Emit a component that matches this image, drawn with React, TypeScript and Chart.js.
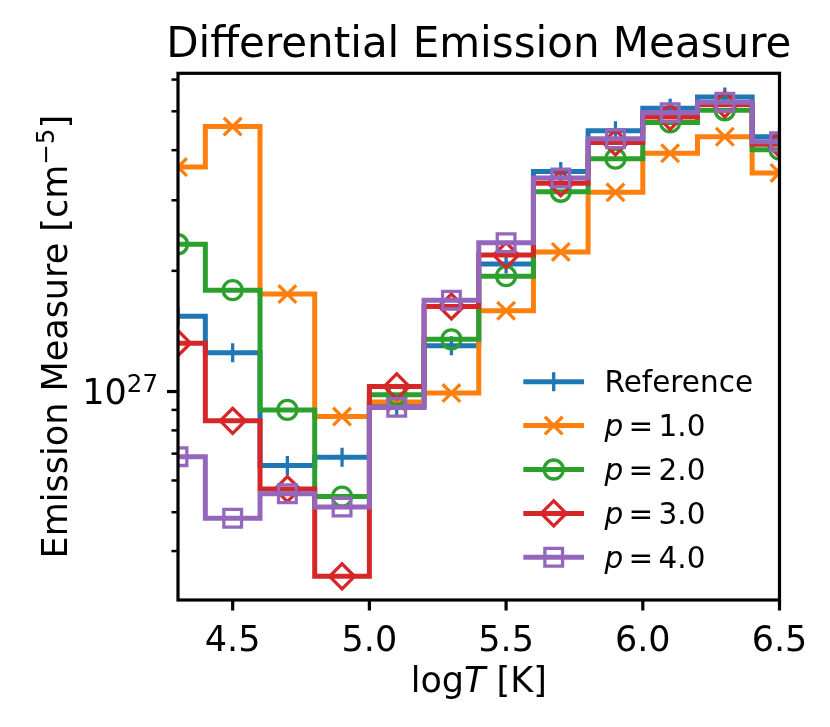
import { useEffect, useRef } from 'react';
import { Chart, registerables, Plugin, ChartConfiguration } from 'chart.js';
import { drawPoint } from 'chart.js/helpers';

Chart.register(...registerables);

// bin centres, log T [K]
const logTemperature: number[] = [4.3, 4.5, 4.7, 4.9, 5.1, 5.3, 5.5, 5.7, 5.9, 6.1, 6.3, 6.5];

// emission measure per bin [cm^-5]
const emReference: number[] = [1.54e27, 1.25e27, 6.54e26, 6.86e26, 9.2e26, 1.30e27, 2.08e27, 3.54e27, 4.47e27, 5.09e27, 5.43e27, 4.32e27];
const emP1: number[] = [3.63e27, 4.58e27, 1.75e27, 8.66e26, 9.42e26, 9.91e26, 1.59e27, 2.23e27, 3.14e27, 3.93e27, 4.32e27, 3.51e27];
const emP2: number[] = [2.33e27, 1.79e27, 9.0e26, 5.47e26, 9.81e26, 1.35e27, 1.94e27, 3.15e27, 3.81e27, 4.69e27, 5.03e27, 4.01e27];
const emP3: number[] = [1.32e27, 8.45e26, 5.71e26, 3.46e26, 1.03e27, 1.63e27, 2.19e27, 3.31e27, 4.18e27, 4.84e27, 5.20e27, 4.14e27];
const emP4: number[] = [6.88e26, 4.83e26, 5.56e26, 5.15e26, 9.13e26, 1.69e27, 2.35e27, 3.41e27, 4.27e27, 4.96e27, 5.27e27, 4.20e27];

const seriesLabels: string[] = ['Reference', 'p = 1.0', 'p = 2.0', 'p = 3.0', 'p = 4.0'];

const xTickValues: number[] = [4.5, 5.0, 5.5, 6.0, 6.5];
const yTickValues: number[] = [4e26, 5e26, 6e26, 7e26, 8e26, 9e26, 1e27, 2e27, 3e27, 4e27, 5e27, 6e27];
const yMajorTick = 1e27;

const FONT = '"DejaVu Sans", sans-serif';
const LINE_W = 5;
const MARKER_W = 3.3;

interface SeriesStyle {
  color: string;
  pointStyle: 'cross' | 'crossRot' | 'circle' | 'rectRot' | 'rect';
  radius: number;
}

const seriesStyles: SeriesStyle[] = [
  { color: '#1f77b4', pointStyle: 'cross', radius: 9.5 },
  { color: '#ff7f0e', pointStyle: 'crossRot', radius: 12.5 },
  { color: '#2ca02c', pointStyle: 'circle', radius: 9.5 },
  { color: '#d62728', pointStyle: 'rectRot', radius: 12.5 },
  { color: '#9467bd', pointStyle: 'rect', radius: 12.5 },
];

// ticks, spines, titles and the in-axes legend, drawn the matplotlib way
const decorPlugin: Plugin<'line'> = {
  id: 'demDecor',
  afterDatasetsDraw(chart) {
    const { ctx, chartArea: area, scales } = chart;
    const xs = scales.x;
    const ys = scales.y;
    ctx.save();
    ctx.strokeStyle = '#000';
    ctx.fillStyle = '#000';

    // tick marks
    ctx.lineWidth = 3.2;
    ctx.beginPath();
    xs.ticks.forEach(t => {
      const px = xs.getPixelForValue(t.value);
      ctx.moveTo(px, area.bottom);
      ctx.lineTo(px, area.bottom + 10.5);
    });
    ctx.stroke();
    ys.ticks.forEach(t => {
      const major = t.value === yMajorTick;
      const py = ys.getPixelForValue(t.value);
      ctx.lineWidth = major ? 3.2 : 2.5;
      ctx.beginPath();
      ctx.moveTo(area.left, py);
      ctx.lineTo(area.left - (major ? 11 : 6.5), py);
      ctx.stroke();
    });

    // spines
    ctx.lineWidth = 3.2;
    ctx.strokeRect(area.left, area.top, area.right - area.left, area.bottom - area.top);

    // 10^27 label
    const majorY = ys.getPixelForValue(yMajorTick);
    ctx.textBaseline = 'alphabetic';
    ctx.textAlign = 'left';
    ctx.font = `24.5px ${FONT}`;
    const supW = ctx.measureText('27').width;
    ctx.font = `35px ${FONT}`;
    const baseW = ctx.measureText('10').width;
    const labelRight = area.left - 20;
    ctx.fillText('10', labelRight - supW - baseW, majorY + 12.8);
    ctx.font = `24.5px ${FONT}`;
    ctx.fillText('27', labelRight - supW, majorY + 0.3);

    // title
    const midX = (area.left + area.right) / 2;
    ctx.textAlign = 'center';
    ctx.font = `42px ${FONT}`;
    ctx.fillText('Differential Emission Measure', midX, area.top - 16.6);

    // x label: log T [K]
    ctx.textAlign = 'left';
    ctx.font = `35px ${FONT}`;
    const wLog = ctx.measureText('log').width;
    const wK = ctx.measureText(' [K]').width;
    ctx.font = `italic 35px ${FONT}`;
    const wT = ctx.measureText('T').width;
    let cx = midX - (wLog + wT + wK) / 2;
    const xBase = area.bottom + 92;
    ctx.font = `35px ${FONT}`;
    ctx.fillText('log', cx, xBase);
    cx += wLog;
    ctx.font = `italic 35px ${FONT}`;
    ctx.fillText('T', cx, xBase);
    cx += wT;
    ctx.font = `35px ${FONT}`;
    ctx.fillText(' [K]', cx, xBase);

    // y label, rotated
    ctx.save();
    ctx.translate(area.left - 111.3, (area.top + area.bottom) / 2);
    ctx.rotate(-Math.PI / 2);
    const mainText = 'Emission Measure [cm';
    ctx.font = `35px ${FONT}`;
    const w1 = ctx.measureText(mainText).width;
    const w3 = ctx.measureText(']').width;
    ctx.font = `24.5px ${FONT}`;
    const w2 = ctx.measureText('\u22125').width;
    let ty = -(w1 + w2 + w3) / 2;
    ctx.font = `35px ${FONT}`;
    ctx.fillText(mainText, ty, 0);
    ty += w1;
    ctx.font = `24.5px ${FONT}`;
    ctx.fillText('\u22125', ty, -12.6);
    ty += w2;
    ctx.font = `35px ${FONT}`;
    ctx.fillText(']', ty, 0);
    ctx.restore();

    // legend
    const legLeft = area.right - 256.2;
    const legRow0 = area.bottom - 218.3;
    const rowGap = 43.9;
    const fs = 29.5;
    chart.data.datasets.forEach((ds, i) => {
      const st = seriesStyles[i];
      const ry = legRow0 + i * rowGap;
      ctx.strokeStyle = st.color;
      ctx.lineWidth = LINE_W;
      ctx.beginPath();
      ctx.moveTo(legLeft, ry);
      ctx.lineTo(legLeft + 60.7, ry);
      ctx.stroke();
      ctx.lineWidth = MARKER_W;
      ctx.fillStyle = 'rgba(0,0,0,0)';
      drawPoint(ctx, { pointStyle: st.pointStyle, radius: st.radius, borderWidth: MARKER_W, rotation: 0 }, legLeft + 30.4, ry);

      ctx.fillStyle = '#000';
      const base = ry + 0.729 * fs / 2;
      let tx = legLeft + 81.2;
      const label = ds.label || '';
      if (label.startsWith('p = ')) {
        ctx.font = `italic ${fs}px ${FONT}`;
        ctx.fillText('p', tx, base);
        tx += ctx.measureText('p').width + 0.18 * fs;
        ctx.font = `${fs}px ${FONT}`;
        ctx.fillText('=', tx, base);
        tx += ctx.measureText('=').width + 0.18 * fs;
        ctx.fillText(label.slice(4), tx, base);
      } else {
        ctx.font = `${fs}px ${FONT}`;
        ctx.fillText(label, tx, base);
      }
    });

    ctx.restore();
  },
};

export default function App() {
  const canvasRef = useRef<HTMLCanvasElement | null>(null);
  const chartRef = useRef<Chart | null>(null);

  useEffect(() => {
    document.body.style.margin = '0';
    if (chartRef.current) {
      chartRef.current.destroy();
    }
    if (!canvasRef.current) return;

    const seriesValues = [emReference, emP1, emP2, emP3, emP4];

    const config: ChartConfiguration<'line'> = {
      type: 'line',
      data: {
        datasets: seriesValues.map((vals, i) => {
          const st = seriesStyles[i];
          return {
            label: seriesLabels[i],
            data: logTemperature.map((x, j) => ({ x, y: vals[j] })),
            borderColor: st.color,
            backgroundColor: 'rgba(0,0,0,0)',
            borderWidth: LINE_W,
            borderJoinStyle: 'miter' as const,
            stepped: 'middle' as const,
            fill: false,
            pointStyle: st.pointStyle,
            pointRadius: st.radius,
            pointBorderWidth: MARKER_W,
            pointBorderColor: st.color,
            pointBackgroundColor: 'rgba(0,0,0,0)',
            clip: 0,
            order: seriesValues.length - i,
          };
        }),
      },
      options: {
        responsive: false,
        animation: false,
        events: [],
        layout: { padding: { left: 78, right: 50.5, top: 73.3, bottom: 0 } },
        plugins: {
          legend: { display: false },
          title: { display: false },
          tooltip: { enabled: false },
        },
        scales: {
          x: {
            type: 'linear',
            min: 4.3,
            max: 6.5,
            grid: { display: false },
            border: { display: false },
            afterBuildTicks: (scale) => {
              scale.ticks = xTickValues.map(v => ({ value: v }));
            },
            afterFit: (scale) => {
              scale.height = 127;
            },
            ticks: {
              autoSkip: false,
              maxRotation: 0,
              padding: 13,
              color: '#000',
              font: { family: FONT, size: 35 },
              callback: (value) => Number(value).toFixed(1),
            },
          },
          y: {
            type: 'logarithmic',
            min: 3.02e26,
            max: 6.22e27,
            grid: { display: false },
            border: { display: false },
            afterBuildTicks: (scale) => {
              scale.ticks = yTickValues.map(v => ({ value: v, major: v === yMajorTick }));
            },
            afterFit: (scale) => {
              scale.width = 100;
            },
            ticks: {
              autoSkip: false,
              display: false,
            },
          },
        },
      },
      plugins: [decorPlugin],
    };

    chartRef.current = new Chart(canvasRef.current, config);

    return () => {
      if (chartRef.current) {
        chartRef.current.destroy();
        chartRef.current = null;
      }
    };
  }, []);

  return (
    <div style={{ width: 830, height: 727, background: '#fff' }}>
      <canvas ref={canvasRef} width={830} height={727} style={{ display: 'block' }} />
    </div>
  );
}
